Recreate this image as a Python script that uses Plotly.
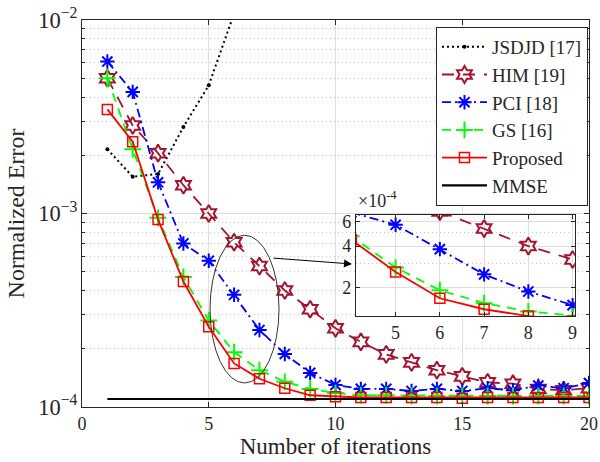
import plotly.graph_objects as go

# ---------------- data ----------------
iterations = [1, 2, 3, 4, 5, 6, 7, 8, 9, 10, 11, 12, 13, 14, 15, 16, 17, 18, 19, 20]
jsdjd_iter = [1, 2, 3, 4, 5, 6]
jsdjd = [2.15e-3, 1.55e-3, 1.6e-3, 2.8e-3, 4.6e-3, 1.08e-2]
him = [5.0e-3, 2.85e-3, 2.05e-3, 1.4e-3, 1.0e-3, 7.1e-4, 5.35e-4, 4.0e-4, 3.2e-4, 2.55e-4,
       2.17e-4, 1.87e-4, 1.7e-4, 1.55e-4, 1.44e-4, 1.34e-4, 1.32e-4, 1.24e-4, 1.22e-4, 1.25e-4]
pci = [6.1e-3, 4.25e-3, 1.45e-3, 7.0e-4, 5.7e-4, 3.8e-4, 2.5e-4, 1.88e-4, 1.5e-4, 1.3e-4,
       1.24e-4, 1.24e-4, 1.21e-4, 1.24e-4, 1.21e-4, 1.25e-4, 1.22e-4, 1.29e-4, 1.25e-4, 1.33e-4]
gs = [5.0e-3, 2.15e-3, 9.5e-4, 4.7e-4, 2.8e-4, 1.92e-4, 1.55e-4, 1.35e-4, 1.24e-4, 1.18e-4,
      1.15e-4, 1.15e-4, 1.14e-4, 1.14e-4, 1.14e-4, 1.14e-4, 1.14e-4, 1.14e-4, 1.14e-4, 1.14e-4]
proposed = [3.45e-3, 2.35e-3, 9.3e-4, 4.45e-4, 2.6e-4, 1.68e-4, 1.4e-4, 1.25e-4, 1.15e-4, 1.13e-4,
            1.12e-4, 1.12e-4, 1.12e-4, 1.12e-4, 1.11e-4, 1.12e-4, 1.12e-4, 1.12e-4, 1.12e-4, 1.12e-4]
mmse = [1.1e-4, 1.1e-4, 1.1e-4, 1.1e-4, 1.1e-4, 1.1e-4, 1.1e-4, 1.1e-4, 1.1e-4, 1.1e-4,
        1.1e-4, 1.1e-4, 1.1e-4, 1.1e-4, 1.1e-4, 1.1e-4, 1.1e-4, 1.1e-4, 1.1e-4, 1.1e-4]

names = ["JSDJD [17]", "HIM [19]", "PCI [18]", "GS [16]", "Proposed", "MMSE"]
x_ticks = [0, 5, 10, 15, 20]
inset_x_ticks = [5, 6, 7, 8, 9]
inset_y_ticks = [2e-4, 4e-4, 6e-4]
inset_y_ticktext = ["2", "4", "6"]

FONT = "Liberation Serif, Times New Roman, serif"
AX = "#262626"
GRID = "#dedede"
MINOR = "#c4c4c4"

series = [
    dict(x=jsdjd_iter, y=jsdjd, name=names[0],
         line=dict(color="black", width=2, dash="2px,3px"),
         marker=dict(symbol="circle", size=4, color="black"), mode="lines+markers"),
    dict(x=iterations, y=him, name=names[1],
         line=dict(color="#A2142F", width=1.8, dash="12px,9px"),
         marker=dict(symbol="hexagram-open", size=13, color="#A2142F",
                     line=dict(color="#A2142F", width=2)), mode="lines+markers"),
    dict(x=iterations, y=pci, name=names[2],
         line=dict(color="#0000FF", width=1.8, dash="9px,4px,2px,4px"),
         marker=dict(symbol="asterisk-open", size=12, color="#0000FF",
                     line=dict(color="#0000FF", width=2)), mode="lines+markers"),
    dict(x=iterations, y=gs, name=names[3],
         line=dict(color="#00FF00", width=1.8, dash="9px,7px"),
         marker=dict(symbol="cross-thin-open", size=12, color="#00FF00",
                     line=dict(color="#00FF00", width=2)), mode="lines+markers"),
    dict(x=iterations, y=proposed, name=names[4],
         line=dict(color="#FF0000", width=1.8),
         marker=dict(symbol="square-open", size=10, color="#FF0000",
                     line=dict(color="#FF0000", width=1.5)), mode="lines+markers"),
    dict(x=iterations, y=mmse, name=names[5],
         line=dict(color="black", width=2.2), mode="lines"),
]

fig = go.Figure()
for s in series:
    fig.add_trace(go.Scatter(xaxis="x", yaxis="y", showlegend=True, **s))
for s in series:
    fig.add_trace(go.Scatter(xaxis="x2", yaxis="y2", showlegend=False, **s))

fig.update_layout(
    width=600, height=462,
    margin=dict(l=82, r=11, t=20, b=55),
    paper_bgcolor="white", plot_bgcolor="white",
    font=dict(family=FONT, size=18, color=AX),
    xaxis=dict(domain=[0, 1], range=[0, 20], tickvals=x_ticks, ticks="inside", ticklen=5,
               tickcolor=AX, showline=True, linecolor=AX, linewidth=1, mirror="ticks",
               showgrid=True, gridcolor=GRID, zeroline=False, automargin=False,
               title=dict(text="Number of iterations", font=dict(size=23), standoff=0)),
    yaxis=dict(domain=[0, 1], type="log", range=[-4, -2], dtick=1, exponentformat="power",
               ticks="inside", ticklen=5, tickcolor=AX, showline=True, linecolor=AX,
               linewidth=1, mirror="ticks", showgrid=True, gridcolor=GRID, zeroline=False,
               automargin=False,
               minor=dict(dtick="D1", ticks="inside", ticklen=3, tickcolor=AX,
                          showgrid=True, gridcolor=MINOR, griddash="1px,3px", gridwidth=1),
               title=dict(text="Normalized Error", font=dict(size=24), standoff=6)),
    xaxis2=dict(domain=[0.540, 0.972], anchor="y2", range=[4.1, 9.05], tickvals=inset_x_ticks,
                ticks="inside", ticklen=4, tickcolor=AX, showline=True, linecolor=AX,
                linewidth=1, mirror="ticks", showgrid=True, gridcolor=GRID, zeroline=False,
                automargin=False),
    yaxis2=dict(domain=[0.235, 0.496], anchor="x2", type="log", range=[-3.903, -3.174],
                tickvals=inset_y_ticks, ticktext=inset_y_ticktext, ticks="inside", ticklen=4,
                tickcolor=AX, showline=True, linecolor=AX, linewidth=1, mirror="ticks",
                showgrid=True, gridcolor=GRID, zeroline=False, automargin=False,
                minor=dict(tickvals=[3e-4, 5e-4], showgrid=True, gridcolor=MINOR,
                           griddash="1px,3px", ticks="")),
    legend=dict(x=0.998, y=0.982, xanchor="right", yanchor="top", bgcolor="white",
                bordercolor=AX, borderwidth=1, font=dict(size=19, color=AX),
                tracegroupgap=0, itemwidth=45),
    showlegend=True,
)

fig.add_shape(type="circle", xref="paper", yref="paper", x0=0.2525, x1=0.3886,
              y0=0.062, y1=0.444, line=dict(color="#333333", width=1))
fig.add_annotation(xref="paper", yref="paper", x=0.5325, y=0.3695, ax=-80, ay=-6,
                   text="", showarrow=True, arrowhead=2, arrowsize=1.6, arrowwidth=1,
                   arrowcolor="black")
fig.add_annotation(xref="paper", yref="paper", x=0.540, y=0.502, xanchor="left",
                   yanchor="bottom", text="×10<sup>-4</sup>", showarrow=False,
                   font=dict(size=18, color=AX))

fig.write_html("out.html", config={"displayModeBar": False},
               post_script="document.body.style.margin='0';document.body.style.overflow='hidden';")
